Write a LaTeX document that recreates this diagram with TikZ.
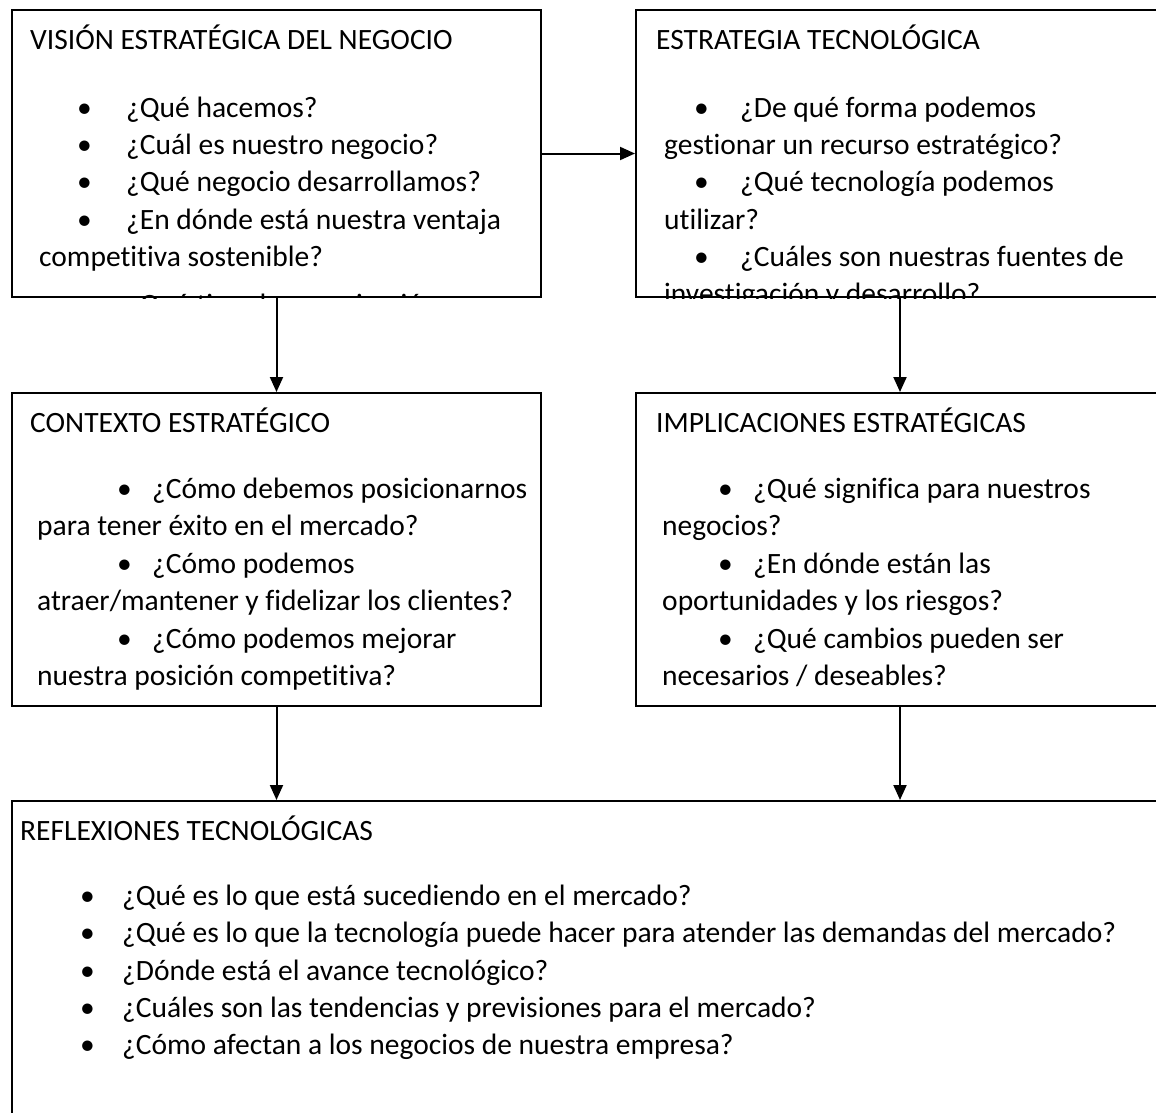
\documentclass[tikz,border=0pt]{standalone}
\usepackage{fontspec}
\setmainfont{Carlito}[Ligatures=NoCommon]
\usetikzlibrary{arrows.meta}
\tikzset{
  box/.style={draw,line width=2pt,anchor=north west,inner sep=0pt,minimum width=#1},
  txt/.style={anchor=base west,inner sep=0pt,font=\fontsize{29.5}{35}\selectfont},
  link/.style={line width=2pt,-{Triangle[length=15pt,width=13pt]}}
}
\begin{document}
\begin{tikzpicture}[x=1pt,y=-1pt]
	\useasboundingbox[fill=white] (0,0) rectangle (1156,1112);
	% boxes
	\node[box=529pt,minimum height=287pt] (vision) at (11,9) {};
	\node[box=528pt,minimum height=287pt] (estrategia) at (635,9) {};
	\node[box=529pt,minimum height=313pt] (contexto) at (11,392) {};
	\node[box=528pt,minimum height=313pt] (implic) at (635,392) {};
	\node[box=1152pt,minimum height=330pt] (reflex) at (11,800) {};
	% vision
	\begin{scope}
	\clip (vision.north west) rectangle (vision.south east);
	\node[txt] (v0) at (30,49) {VISIÓN ESTRATÉGICA DEL NEGOCIO};
	\node[txt] at (77,117) {•};
	\node[txt] (v1) at (126,117) {¿Qué hacemos?};
	\node[txt] at (77,154) {•};
	\node[txt] (v2) at (126,154) {¿Cuál es nuestro negocio?};
	\node[txt] at (77,191) {•};
	\node[txt] (v3) at (126,191) {¿Qué negocio desarrollamos?};
	\node[txt] at (77,229) {•};
	\node[txt] (v4) at (126,229) {¿En dónde está nuestra ventaja};
	\node[txt] (v5) at (39,266) {competitiva sostenible?};
	\node[txt] at (77,314) {•};
	\node[txt] (v6) at (126,314) {¿Qué tipo de organización};
	\end{scope}
	% estrategia
	\begin{scope}
	\clip (estrategia.north west) rectangle (estrategia.south east);
	\node[txt] (e0) at (656,49) {ESTRATEGIA TECNOLÓGICA};
	\node[txt] at (694,117) {•};
	\node[txt] (e1) at (740,117) {¿De qué forma podemos};
	\node[txt] (e2) at (664,154) {gestionar un recurso estratégico?};
	\node[txt] at (694,191) {•};
	\node[txt] (e3) at (740,191) {¿Qué tecnología podemos};
	\node[txt] (e4) at (664,229) {utilizar?};
	\node[txt] at (694,266) {•};
	\node[txt] (e5) at (740,266) {¿Cuáles son nuestras fuentes de};
	\node[txt] (e6) at (664,303) {investigación y desarrollo?};
	\end{scope}
	% contexto
	\node[txt] (c0) at (30,432) {CONTEXTO ESTRATÉGICO};
	\node[txt] at (117,498) {•};
	\node[txt] (c1) at (152,498) {¿Cómo debemos posicionarnos};
	\node[txt] (c2) at (37,535) {para tener éxito en el mercado?};
	\node[txt] at (117,573) {•};
	\node[txt] (c3) at (152,573) {¿Cómo podemos};
	\node[txt] (c4) at (37,610) {atraer/mantener y fidelizar los clientes?};
	\node[txt] at (117,648) {•};
	\node[txt] (c5) at (152,648) {¿Cómo podemos mejorar};
	\node[txt] (c6) at (37,685) {nuestra posición competitiva?};
	% implicaciones
	\node[txt] (i0) at (656,432) {IMPLICACIONES ESTRATÉGICAS};
	\node[txt] at (718,498) {•};
	\node[txt] (i1) at (753,498) {¿Qué significa para nuestros};
	\node[txt] (i2) at (662,535) {negocios?};
	\node[txt] at (718,573) {•};
	\node[txt] (i3) at (753,573) {¿En dónde están las};
	\node[txt] (i4) at (662,610) {oportunidades y los riesgos?};
	\node[txt] at (718,648) {•};
	\node[txt] (i5) at (753,648) {¿Qué cambios pueden ser};
	\node[txt] (i6) at (662,685) {necesarios / deseables?};
	% reflexiones
	\node[txt] (r0) at (20,840) {REFLEXIONES TECNOLÓGICAS};
	\node[txt] at (80,905) {•};
	\node[txt] (r1) at (122,905) {¿Qué es lo que está sucediendo en el mercado?};
	\node[txt] at (80,942) {•};
	\node[txt] (r2) at (122,942) {¿Qué es lo que la tecnología puede hacer para atender las demandas del mercado?};
	\node[txt] at (80,980) {•};
	\node[txt] (r3) at (122,980) {¿Dónde está el avance tecnológico?};
	\node[txt] at (80,1017) {•};
	\node[txt] (r4) at (122,1017) {¿Cuáles son las tendencias y previsiones para el mercado?};
	\node[txt] at (80,1054) {•};
	\node[txt] (r5) at (122,1054) {¿Cómo afectan a los negocios de nuestra empresa?};
	% connectors
	\draw[link] (vision.east) -- (vision.east -| estrategia.west);
	\draw[link] (vision.south) -- (contexto.north);
	\draw[link] (estrategia.south) -- (implic.north);
	\draw[link] (contexto.south) -- (contexto.south |- reflex.north);
	\draw[link] (implic.south) -- (implic.south |- reflex.north);
\end{tikzpicture}
\end{document}
